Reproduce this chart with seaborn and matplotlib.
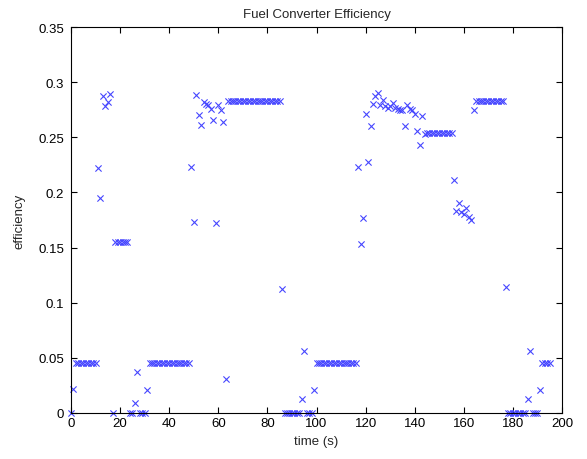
import numpy as np
import pandas as pd
import matplotlib
matplotlib.use("Agg")
import matplotlib.pyplot as plt
import seaborn as sns

# Fuel converter efficiency sampled once per second over the urban cycle
time_s = np.arange(0, 196)

efficiency = [
    0, 0.022, 0.045, 0.045, 0.045, 0.045, 0.045, 0.045, 0.045, 0.045,          # 0-9
    0.045, 0.222, 0.195, 0.287, 0.278, 0.282, 0.289, 0, 0.155, 0.155,          # 10-19
    0.155, 0.155, 0.155, 0.155, 0, 0, 0.009, 0.037, 0, 0,                      # 20-29
    0, 0.021, 0.045, 0.045, 0.045, 0.045, 0.045, 0.045, 0.045, 0.045,          # 30-39
    0.045, 0.045, 0.045, 0.045, 0.045, 0.045, 0.045, 0.045, 0.045, 0.223,      # 40-49
    0.173, 0.288, 0.270, 0.261, 0.282, 0.280, 0.279, 0.276, 0.266, 0.172,      # 50-59
    0.279, 0.275, 0.264, 0.031, 0.283, 0.283, 0.283, 0.283, 0.283, 0.283,      # 60-69
    0.283, 0.283, 0.283, 0.283, 0.283, 0.283, 0.283, 0.283, 0.283, 0.283,      # 70-79
    0.283, 0.283, 0.283, 0.283, 0.283, 0.283, 0.112, 0, 0, 0,                  # 80-89
    0, 0, 0, 0, 0.013, 0.056, 0, 0, 0, 0.021,                                  # 90-99
    0.045, 0.045, 0.045, 0.045, 0.045, 0.045, 0.045, 0.045, 0.045, 0.045,      # 100-109
    0.045, 0.045, 0.045, 0.045, 0.045, 0.045, 0.045, 0.223, 0.153, 0.177,      # 110-119
    0.271, 0.228, 0.260, 0.280, 0.287, 0.290, 0.279, 0.284, 0.278, 0.277,      # 120-129
    0.278, 0.281, 0.277, 0.276, 0.275, 0.275, 0.260, 0.279, 0.276, 0.275,      # 130-139
    0.271, 0.256, 0.243, 0.269, 0.253, 0.254, 0.254, 0.254, 0.254, 0.254,      # 140-149
    0.254, 0.254, 0.254, 0.254, 0.254, 0.254, 0.211, 0.183, 0.190, 0.182,      # 150-159
    0.180, 0.186, 0.178, 0.175, 0.275, 0.283, 0.283, 0.283, 0.283, 0.283,      # 160-169
    0.283, 0.283, 0.283, 0.283, 0.283, 0.283, 0.283, 0.114, 0, 0,              # 170-179
    0, 0, 0, 0, 0, 0, 0.013, 0.056, 0, 0,                                      # 180-189
    0, 0.021, 0.045, 0.045, 0.045, 0.045,                                      # 190-195
]

x_ticks = [0, 20, 40, 60, 80, 100, 120, 140, 160, 180, 200]
y_ticks = [0, 0.05, 0.1, 0.15, 0.2, 0.25, 0.3, 0.35]
y_tick_labels = ["0", "0.05", "0.1", "0.15", "0.2", "0.25", "0.3", "0.35"]

sns.set_style("ticks")
plt.rcParams["font.family"] = ["Liberation Sans", "DejaVu Sans"]

fig, ax = plt.subplots(figsize=(5.87, 4.60), dpi=100)
fig.subplots_adjust(left=71 / 587, right=562 / 587, bottom=46 / 460, top=1 - 28 / 460)

df = pd.DataFrame({"time": time_s, "efficiency": efficiency})
sns.scatterplot(
    data=df, x="time", y="efficiency", marker="x", color="#4646ff",
    s=20, linewidth=0.8, ax=ax, clip_on=False, legend=False,
)

ax.set_xlim(0, 200)
ax.set_ylim(0, 0.35)
ax.set_xticks(x_ticks)
ax.set_xticklabels([str(v) for v in x_ticks])
ax.set_yticks(y_ticks)
ax.set_yticklabels(y_tick_labels)

ax.tick_params(direction="in", top=True, right=True, length=4, width=0.8,
               labelsize=9.5, colors="black")
ax.tick_params(axis="y", pad=5)
ax.tick_params(axis="x", pad=3)
for spine in ax.spines.values():
    spine.set_visible(True)
    spine.set_linewidth(0.8)
    spine.set_color("black")

ax.set_title("Fuel Converter Efficiency", fontsize=9.5, pad=7)
ax.set_xlabel("time (s)", fontsize=9.5, labelpad=4)
ax.set_ylabel("efficiency", fontsize=9.5, labelpad=9)

fig.savefig("out.png", dpi=100)
